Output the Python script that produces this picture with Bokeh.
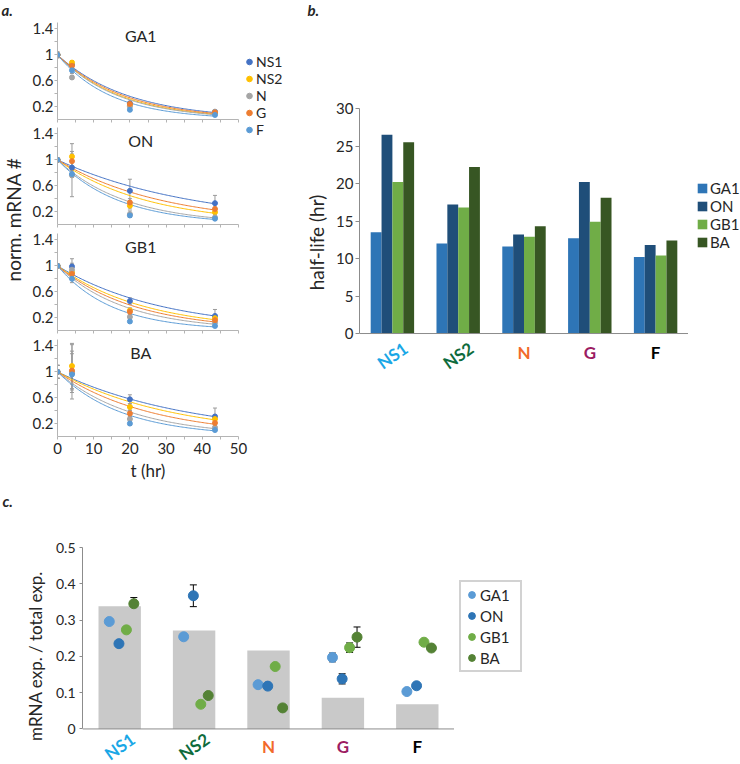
import numpy as np
from bokeh.plotting import figure
from bokeh.models import (ColumnDataSource, Range1d, FactorRange, FixedTicker,
                          CustomJSTickFormatter, Legend, LegendItem, Whisker, TeeHead,
                          Span)
from bokeh.transform import dodge
from bokeh.layouts import row, column
from bokeh.embed import file_html
from bokeh.resources import INLINE
from bokeh.core.properties import value

FONT = "Lato"
TXT = "#262626"
NAN = float("nan")

# ---------------- data: panel a (normalised mRNA vs time) ----------------
times = [0, 4, 20, 43.5]
genes = ["NS1", "NS2", "N", "G", "F"]
gene_colors = ["#4472C4", "#FFC000", "#A5A5A5", "#ED7D31", "#5B9BD5"]
conditions = ["GA1", "ON", "GB1", "BA"]

norm_GA1 = {"NS1": [1.0, 0.85, 0.25, 0.12], "NS2": [1.0, 0.88, 0.22, 0.10],
            "N": [1.0, 0.65, 0.20, 0.12], "G": [1.0, 0.83, 0.24, 0.11],
            "F": [1.0, 0.76, 0.15, 0.07]}
err_GA1 = {"NS1": [0.05, 0.04, 0.03, 0.02], "NS2": [0.0, 0.03, 0.02, 0.02],
           "N": [0.0, 0.03, 0.02, 0.02], "G": [0.0, 0.04, 0.02, 0.02],
           "F": [0.0, 0.05, 0.02, 0.01]}

norm_ON = {"NS1": [1.0, 0.88, 0.52, 0.33], "NS2": [1.0, 1.05, 0.29, 0.19],
           "N": [1.0, 0.76, 0.16, 0.11], "G": [1.0, 0.98, 0.34, 0.24],
           "F": [1.0, 0.78, 0.14, 0.09]}
err_ON = {"NS1": [0.02, 0.10, 0.18, 0.12], "NS2": [0.02, 0.20, 0.05, 0.03],
          "N": [0.02, 0.33, 0.05, 0.02], "G": [0.02, 0.15, 0.06, 0.03],
          "F": [0.02, 0.05, 0.03, 0.02]}

norm_GB1 = {"NS1": [1.0, 0.99, 0.455, 0.225], "NS2": [1.0, 0.90, 0.31, 0.19],
            "N": [1.0, 0.94, 0.21, 0.12], "G": [1.0, 0.875, 0.29, 0.16],
            "F": [1.0, 0.80, 0.14, 0.07]}
err_GB1 = {"NS1": [0.02, 0.12, 0.05, 0.10], "NS2": [0.02, 0.08, 0.04, 0.03],
           "N": [0.02, 0.10, 0.03, 0.02], "G": [0.02, 0.06, 0.04, 0.03],
           "F": [0.02, 0.06, 0.02, 0.01]}

norm_BA = {"NS1": [1.0, 0.98, 0.575, 0.31], "NS2": [1.0, 1.09, 0.457, 0.27],
           "N": [1.0, 1.00, 0.27, 0.14], "G": [1.0, 1.02, 0.355, 0.21],
           "F": [1.0, 0.96, 0.20, 0.10]}
err_BA = {"NS1": [0.10, 0.30, 0.07, 0.13], "NS2": [0.10, 0.35, 0.05, 0.05],
          "N": [0.10, 0.42, 0.04, 0.03], "G": [0.10, 0.30, 0.05, 0.04],
          "F": [0.10, 0.15, 0.03, 0.02]}

# ---------------- data: panel b (half-life, hr) ----------------
halflife_GA1 = [13.5, 12.0, 11.6, 12.7, 10.2]
halflife_ON = [26.5, 17.2, 13.2, 20.2, 11.8]
halflife_GB1 = [20.2, 16.8, 12.9, 14.9, 10.4]
halflife_BA = [25.5, 22.2, 14.3, 18.1, 12.4]
cond_colors_b = ["#2E75B6", "#1F4E79", "#70AD47", "#375623"]

# ---------------- data: panel c (mRNA exp. / total exp.) ----------------
bar_frac = [0.338, 0.271, 0.216, 0.086, 0.068]
frac_GA1 = [0.296, 0.254, 0.122, 0.197, 0.103]
frac_ON = [0.235, 0.367, 0.118, 0.138, 0.119]
frac_GB1 = [0.273, 0.068, 0.172, 0.224, 0.239]
frac_BA = [0.345, 0.092, 0.058, 0.253, 0.223]
fracerr_GA1 = [0, 0, 0, 0.012, 0.008]
fracerr_ON = [0, 0.030, 0, 0.014, 0.005]
fracerr_GB1 = [0, 0, 0.014, 0.013, 0]
fracerr_BA = [0.017, 0.006, 0, 0.028, 0]
cond_colors_c = ["#5B9BD5", "#2E75B6", "#70AD47", "#548235"]

label_colors = ["#1AA7E6", "#0E6B3C", "#F26A2B", "#9C1C62", "#000000"]
label_angles = [35, 35, 0, 0, 0]


def clean(p):
    p.outline_line_color = None
    p.grid.visible = False
    p.background_fill_color = "white"
    p.border_fill_color = "white"


def blank(w, h):
    p = figure(width=w, height=h, x_range=Range1d(0, w), y_range=Range1d(0, h),
               output_backend="svg", toolbar_location=None,
               min_border=0, x_axis_location=None, y_axis_location=None)
    clean(p)
    return p


def tag(p, x, y, text, size="15px", style="bold italic", angle=0, align="left",
        baseline="top"):
    p.text(x=[x], y=[y], text=[text], angle=angle, angle_units="deg",
           text_align=align, text_baseline=baseline, text_font=value(FONT),
           text_font_size=size, text_font_style=style, text_color=TXT)


fmt1 = CustomJSTickFormatter(code="return Number(tick.toFixed(1)).toString();")


def panel_a(cond, norm, err, hl, top, bottom, right, last):
    p = figure(width=29 + 181 + right, height=top + 97 + bottom,
               x_range=Range1d(0, 50), y_range=Range1d(0, 1.5),
               output_backend="svg", toolbar_location=None,
               min_border_left=29, min_border_right=right,
               min_border_top=top, min_border_bottom=bottom)
    clean(p)
    ax_col = "#B4B4B4"
    if last:
        p.xaxis.ticker = FixedTicker(ticks=[0, 10, 20, 30, 40, 50],
                                     minor_ticks=[5, 15, 25, 35, 45])
    else:
        p.xaxis.ticker = FixedTicker(ticks=[],
                                     minor_ticks=[0, 5, 10, 15, 20, 25, 30, 35,
                                                  40, 45, 50])
    p.yaxis.ticker = FixedTicker(ticks=[0.2, 0.6, 1.0, 1.4],
                                 minor_ticks=[0.4, 0.8, 1.2])
    p.yaxis.formatter = fmt1
    for ax in (p.xaxis[0], p.yaxis[0]):
        ax.axis_line_color = ax_col
        ax.major_tick_line_color = ax_col
        ax.minor_tick_line_color = ax_col
        ax.major_tick_in = 0
        ax.major_tick_out = 3
        ax.minor_tick_in = 0
        ax.minor_tick_out = 3
        ax.major_label_text_font = FONT
        ax.major_label_text_font_size = "15px"
        ax.major_label_text_color = TXT
    p.yaxis.major_label_standoff = 1
    if last:
        p.xaxis.major_label_standoff = 3
        p.xaxis.axis_label = "t (hr)"
        p.xaxis.axis_label_text_font = FONT
        p.xaxis.axis_label_text_font_size = "17px"
        p.xaxis.axis_label_text_font_style = "normal"
        p.xaxis.axis_label_text_color = TXT
        p.xaxis.axis_label_standoff = 3

    tfit = np.linspace(0, times[-1], 120)
    for c, h in zip(gene_colors, hl):
        p.line(tfit, 0.5 ** (tfit / h), line_color=c, line_width=1)
    wc = "#9A9A9A"
    for g in genes:
        v, e = norm[g], err[g]
        keep = [i for i in range(len(times)) if e[i] > 0]
        src = ColumnDataSource(dict(t=[times[i] for i in keep],
                                    up=[v[i] + e[i] for i in keep],
                                    lo=[v[i] - e[i] for i in keep]))
        p.add_layout(Whisker(source=src, base="t", upper="up", lower="lo",
                             line_color=wc, line_width=1,
                             upper_head=TeeHead(size=4, line_color=wc, line_width=1),
                             lower_head=TeeHead(size=4, line_color=wc, line_width=1)))
    for g, c in zip(genes, gene_colors):
        p.scatter(times, norm[g], size=5, color=c)
    p.text(x=[23], y=[1.3], text=[cond], text_align="center", text_baseline="middle",
           text_font=value(FONT), text_font_size="16px", text_color=TXT)
    return p


a1 = panel_a("GA1", norm_GA1, err_GA1, halflife_GA1, 22, 4, 6, False)
a2 = panel_a("ON", norm_ON, err_ON, halflife_ON, 4, 4, 6, False)
a3 = panel_a("GB1", norm_GB1, err_GB1, halflife_GB1, 5, 4, 6, False)
a4 = panel_a("BA", norm_BA, err_BA, halflife_BA, 5, 54, 50, True)

# legend strip of panel a
leg_a = blank(44, 334)
items = []
for g, c in zip(genes, gene_colors):
    r = leg_a.scatter(x=[NAN], y=[NAN], size=6, color=c)
    items.append(LegendItem(label=g, renderers=[r]))
leg_a.add_layout(Legend(items=items, location=(-2, 196), glyph_width=14,
                        glyph_height=17, label_height=17, spacing=0, padding=0,
                        margin=0, label_standoff=0, label_text_font=FONT,
                        label_text_font_size="14px", label_text_color=TXT,
                        border_line_color=None, background_fill_alpha=0))

# y label strip of panel a
ylab = blank(28, 490)
tag(ylab, 13, 271, "norm. mRNA #", size="19px", style="normal", angle=90,
    align="center", baseline="middle")
tag(ylab, 1, 490, "a.")

# ---------------- panel b ----------------
bstrip = blank(452, 100)
tag(bstrip, 19, 100, "b.")

pb = figure(width=400, height=276, x_range=FactorRange(*genes),
            y_range=Range1d(-5.73, 30), output_backend="svg", toolbar_location=None,
            x_axis_location=None, min_border_left=71, min_border_right=0,
            min_border_top=8, min_border_bottom=0)
clean(pb)
src_b = ColumnDataSource(dict(gene=genes, GA1=halflife_GA1, ON=halflife_ON,
                              GB1=halflife_GB1, BA=halflife_BA))
offs_b = [-0.2475, -0.0825, 0.0825, 0.2475]
for cond, off, col in zip(conditions, offs_b, cond_colors_b):
    pb.vbar(x=dodge("gene", off, range=pb.x_range), top=cond, width=0.165,
            fill_color=col, line_color=None, source=src_b)
pb.add_layout(Span(location=0, dimension="width", line_color="#8C8C8C", line_width=1))
pb.yaxis.bounds = (0, 30)
pb.yaxis.ticker = FixedTicker(ticks=[0, 5, 10, 15, 20, 25, 30])
pb.yaxis.axis_line_color = "#8C8C8C"
pb.yaxis.major_tick_line_color = "#8C8C8C"
pb.yaxis.major_tick_in = 0
pb.yaxis.major_tick_out = 4
pb.yaxis.minor_tick_line_color = None
pb.yaxis.major_label_standoff = 2
pb.yaxis.major_label_text_font = FONT
pb.yaxis.major_label_text_font_size = "15px"
pb.yaxis.major_label_text_color = TXT
pb.yaxis.axis_label = "half-life (hr)"
pb.yaxis.axis_label_text_font = FONT
pb.yaxis.axis_label_text_font_size = "19px"
pb.yaxis.axis_label_text_font_style = "normal"
pb.yaxis.axis_label_text_color = TXT
pb.yaxis.axis_label_standoff = 5
lab_b = ColumnDataSource(dict(gene=genes, color=label_colors, angle=label_angles,
                              ly=[-2.93, -2.93, -2.49, -2.49, -2.49]))
pb.text(x="gene", y="ly", text="gene", source=lab_b, text_color="color",
        angle="angle", angle_units="deg", text_align="center",
        text_baseline="middle", text_font=value(FONT), text_font_style="bold",
        text_font_size="17px")

legb = blank(52, 276)
items_b = []
for cond, col in zip(conditions, cond_colors_b):
    r = legb.vbar(x=[NAN], top=[NAN], width=1, fill_color=col, line_color=None)
    items_b.append(LegendItem(label=cond, renderers=[r]))
legb.add_layout(Legend(items=items_b, location=(8, 125), glyph_width=12,
                       glyph_height=12, label_height=16, spacing=0, padding=0,
                       margin=0, label_standoff=2, label_text_font=FONT,
                       label_text_font_size="15px", label_text_color=TXT,
                       border_line_color=None, background_fill_alpha=0))

# ---------------- panel c ----------------
cstrip = blank(740, 49)
tag(cstrip, 2, 48, "c.")

pc = figure(width=454, height=225, x_range=FactorRange(*genes),
            y_range=Range1d(-0.098, 0.5), output_backend="svg", toolbar_location=None,
            x_axis_location=None, min_border_left=82, min_border_right=0,
            min_border_top=8, min_border_bottom=0)
clean(pc)
src_c = ColumnDataSource(dict(gene=genes, bar=bar_frac, GA1=frac_GA1, ON=frac_ON,
                              GB1=frac_GB1, BA=frac_BA))
pc.vbar(x="gene", top="bar", width=0.57, fill_color="#C9C9C9", line_color=None,
        source=src_c)
pc.add_layout(Span(location=0, dimension="width", line_color="#8C8C8C", line_width=1))
offs_c = [-0.14, -0.01, 0.09, 0.19]
errs_c = [fracerr_GA1, fracerr_ON, fracerr_GB1, fracerr_BA]
fracs_c = [frac_GA1, frac_ON, frac_GB1, frac_BA]
for cond, off, fr, er in zip(conditions, offs_c, fracs_c, errs_c):
    keep = [i for i in range(len(genes)) if er[i] > 0]
    wsrc = ColumnDataSource(dict(gene=[genes[i] for i in keep],
                                 up=[fr[i] + er[i] for i in keep],
                                 lo=[fr[i] - er[i] for i in keep]))
    pc.add_layout(Whisker(source=wsrc, base=dodge("gene", off, range=pc.x_range),
                          upper="up", lower="lo", line_color="black", line_width=1,
                          upper_head=TeeHead(size=7, line_color="black", line_width=1),
                          lower_head=TeeHead(size=7, line_color="black", line_width=1)))
for cond, off, col in zip(conditions, offs_c, cond_colors_c):
    pc.scatter(x=dodge("gene", off, range=pc.x_range), y=cond, size=10, color=col,
               source=src_c)
pc.yaxis.bounds = (0, 0.5)
pc.yaxis.ticker = FixedTicker(ticks=[0, 0.1, 0.2, 0.3, 0.4, 0.5])
pc.yaxis.formatter = fmt1
pc.yaxis.axis_line_color = "#8C8C8C"
pc.yaxis.major_tick_line_color = "#8C8C8C"
pc.yaxis.minor_tick_line_color = None
pc.yaxis.major_tick_out = 3
pc.yaxis.major_tick_in = 0
pc.yaxis.major_label_standoff = 4
pc.yaxis.major_label_text_font = FONT
pc.yaxis.major_label_text_font_size = "14px"
pc.yaxis.major_label_text_color = TXT
pc.yaxis.axis_label = "mRNA exp. / total exp."
pc.yaxis.axis_label_text_font = FONT
pc.yaxis.axis_label_text_font_size = "17px"
pc.yaxis.axis_label_text_font_style = "normal"
pc.yaxis.axis_label_text_color = TXT
pc.yaxis.axis_label_standoff = 7
lab_c = ColumnDataSource(dict(gene=genes, color=label_colors, angle=label_angles,
                              ly=[-0.048] * 5))
pc.text(x="gene", y="ly", text="gene", source=lab_c, text_color="color",
        angle="angle", angle_units="deg", text_align="center",
        text_baseline="middle", text_font=value(FONT), text_font_style="bold",
        text_font_size="17px")

legc = blank(286, 225)
items_c = []
for cond, col in zip(conditions, cond_colors_c):
    r = legc.scatter(x=[NAN], y=[NAN], size=7, color=col)
    items_c.append(LegendItem(label=cond, renderers=[r]))
legc.add_layout(Legend(items=items_c, location=(5, 92), glyph_width=17,
                       glyph_height=21, label_height=21, label_width=38, spacing=0,
                       padding=2, margin=0, label_standoff=0, label_text_font=FONT,
                       label_text_font_size="15px", label_text_color=TXT,
                       border_line_color="#A6A6A6", border_line_width=2,
                       background_fill_color="white", background_fill_alpha=1))

acol = column(row(column(a1, a2, a3), leg_a), a4)
bcol = column(bstrip, row(pb, legb))
page = column(row(ylab, acol, bcol), cstrip, row(pc, legc))

open("out.html", "w").write(file_html(page, INLINE, title="mRNA decay"))
